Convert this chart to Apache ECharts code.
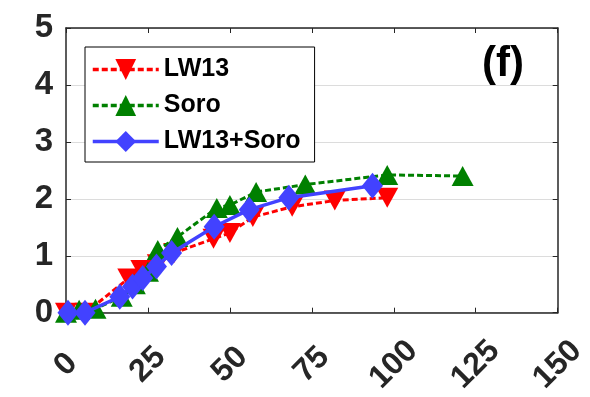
<!DOCTYPE html>
<html>
<head>
<meta charset="utf-8">
<script src="https://cdn.jsdelivr.net/npm/echarts@6/dist/echarts.min.js"></script>
<style>
html,body{margin:0;padding:0;background:#fff;}
#chart{width:590px;height:397px;}
</style>
</head>
<body>
<div id="chart"></div>
<script>
// ---- data ----
var seriesNames = ['LW13', 'Soro', 'LW13+Soro'];
var lw13X = [0, 6, 19, 23, 28, 33, 45, 50, 57, 69, 82, 98];
var lw13Y = [0.0, 0.0, 0.6, 0.75, 0.85, 1.05, 1.3, 1.4, 1.68, 1.86, 1.97, 2.02];
var soroX = [0, 4, 9, 17, 21, 25, 28, 34, 46, 50, 58, 73, 98, 121];
var soroY = [0.0, 0.05, 0.07, 0.28, 0.5, 0.72, 1.1, 1.33, 1.84, 1.89, 2.12, 2.25, 2.42, 2.4];
var bothX = [0.6, 5.8, 16.4, 20.3, 23.4, 27.6, 32.2, 45.2, 55.9, 68, 93.5];
var bothY = [0.0, 0.0, 0.28, 0.46, 0.61, 0.81, 1.05, 1.51, 1.81, 2.02, 2.23];
var xTicks = [0, 25, 50, 75, 100, 125, 150];
var yTicks = [0, 1, 2, 3, 4, 5];
var panelLabel = '(f)';

function pairs(xs, ys) { return xs.map(function (x, i) { return [x, ys[i]]; }); }

var axisColor = '#262626';
var downTri = 'path://M0,0 L2,0 L1,1.8 Z';
var colors = ['#ff0000', '#008000', '#4242ff'];

var chart = echarts.init(document.getElementById('chart'), null, {renderer: 'canvas'});
var option = {
  animation: false,
  backgroundColor: '#ffffff',
  grid: {left: 66, right: 30, top: 28, bottom: 84, containLabel: false},
  xAxis: [{
    type: 'value', min: xTicks[0], max: xTicks[xTicks.length - 1], interval: xTicks[1] - xTicks[0],
    axisLine: {show: true, onZero: false, lineStyle: {color: axisColor, width: 1.5}},
    axisTick: {show: true, inside: true, length: 5, lineStyle: {color: axisColor, width: 1}},
    splitLine: {show: false},
    axisLabel: {
      rotate: 45, align: 'center', verticalAlign: 'middle', margin: 52,
      fontSize: 32, fontWeight: 'bold', color: axisColor, fontFamily: 'Liberation Sans, Arial, sans-serif'
    }
  }, {
    type: 'value', position: 'top', min: xTicks[0], max: xTicks[xTicks.length - 1], interval: xTicks[1] - xTicks[0],
    axisLine: {show: true, onZero: false, lineStyle: {color: axisColor, width: 1.5}},
    axisTick: {show: true, inside: true, length: 5, lineStyle: {color: axisColor, width: 1}},
    axisLabel: {show: false}, splitLine: {show: false}
  }],
  yAxis: [{
    type: 'value', min: yTicks[0], max: yTicks[yTicks.length - 1], interval: 1,
    axisLine: {show: true, onZero: false, lineStyle: {color: axisColor, width: 1.5}},
    axisTick: {show: true, inside: true, length: 5, lineStyle: {color: axisColor, width: 1}},
    splitLine: {show: true, lineStyle: {color: '#dcdcdc', width: 1}},
    axisLabel: {
      margin: 13, fontSize: 33, fontWeight: 'bold', color: axisColor, padding: [8, 0, 0, 0],
      fontFamily: 'Liberation Sans, Arial, sans-serif'
    }
  }, {
    type: 'value', position: 'right', min: yTicks[0], max: yTicks[yTicks.length - 1], interval: 1,
    axisLine: {show: true, onZero: false, lineStyle: {color: axisColor, width: 1.5}},
    axisTick: {show: true, inside: true, length: 5, lineStyle: {color: axisColor, width: 1}},
    axisLabel: {show: false}, splitLine: {show: false}
  }],
  legend: {
    orient: 'vertical', left: 85, top: 47,
    padding: [10, 14, 8, 6], itemGap: 11, itemWidth: 66, itemHeight: 26,
    backgroundColor: '#ffffff', borderColor: '#000000', borderWidth: 1,
    textStyle: {fontSize: 25, fontWeight: 'bold', color: '#000', fontFamily: 'Liberation Sans, Arial, sans-serif'},
    data: seriesNames.map(function (n, i) {
      return {name: n, lineStyle: {width: 3.5, color: colors[i]}};
    })
  },
  graphic: [{
    type: 'text', left: 482, top: 43,
    style: {text: panelLabel, fontSize: 42, fontWeight: 'bold', fill: '#000', fontFamily: 'Liberation Sans, Arial, sans-serif'}
  }],
  series: [{
    name: seriesNames[0], type: 'line', data: pairs(lw13X, lw13Y),
    symbol: downTri, symbolSize: [22, 20],
    lineStyle: {color: colors[0], width: 3, type: [6, 3]},
    itemStyle: {color: colors[0]}, z: 2
  }, {
    name: seriesNames[1], type: 'line', data: pairs(soroX, soroY),
    symbol: 'triangle', symbolSize: [22, 20],
    lineStyle: {color: colors[1], width: 3, type: [6, 3]},
    itemStyle: {color: colors[1]}, z: 3
  }, {
    name: seriesNames[2], type: 'line', data: pairs(bothX, bothY),
    symbol: 'diamond', symbolSize: [21, 26],
    lineStyle: {color: colors[2], width: 3.5},
    itemStyle: {color: colors[2]}, z: 4
  }]
};
chart.setOption(option);
</script>
</body>
</html>
